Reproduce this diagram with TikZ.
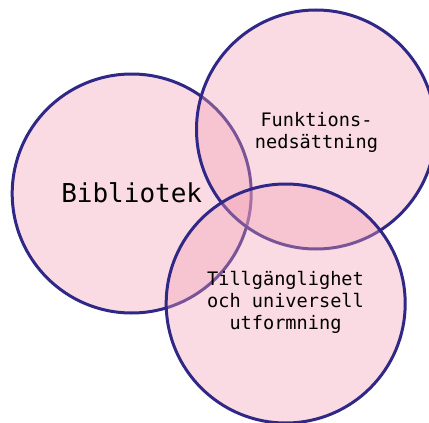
\documentclass[tikz,border=0pt]{standalone}
\usepackage{fontspec}
\setmonofont{DejaVu Sans Mono}
\definecolor{ringblue}{RGB}{48,40,135}
\definecolor{ringpink}{RGB}{242,160,182}
\tikzset{
  ring/.style={draw=ringblue,line width=3pt,fill=ringpink,fill opacity=0.38},
  label/.style={font=\ttfamily\fontsize{18.6}{22}\selectfont,align=center,text=black}
}
\begin{document}
\begin{tikzpicture}[x=1pt,y=-1pt]
        \useasboundingbox (0,0) rectangle (429,423);
        % the three sets
        \draw[ring] (131.7,193.5) circle (119.5);
        \draw[ring] (316,129.5) circle (119.5);
        \draw[ring] (285.7,303.5) circle (119.5);

        \node[font=\ttfamily\fontsize{26}{30}\selectfont] (bib) at (131.7,193) {Bibliotek};
        \node[label] (funk) at (316.5,132) {Funktions-\\nedsättning};
        \node[label] (tillg) at (285.5,302) {Tillgänglighet\\och universell\\utformning};
    \end{tikzpicture}
\end{document}
